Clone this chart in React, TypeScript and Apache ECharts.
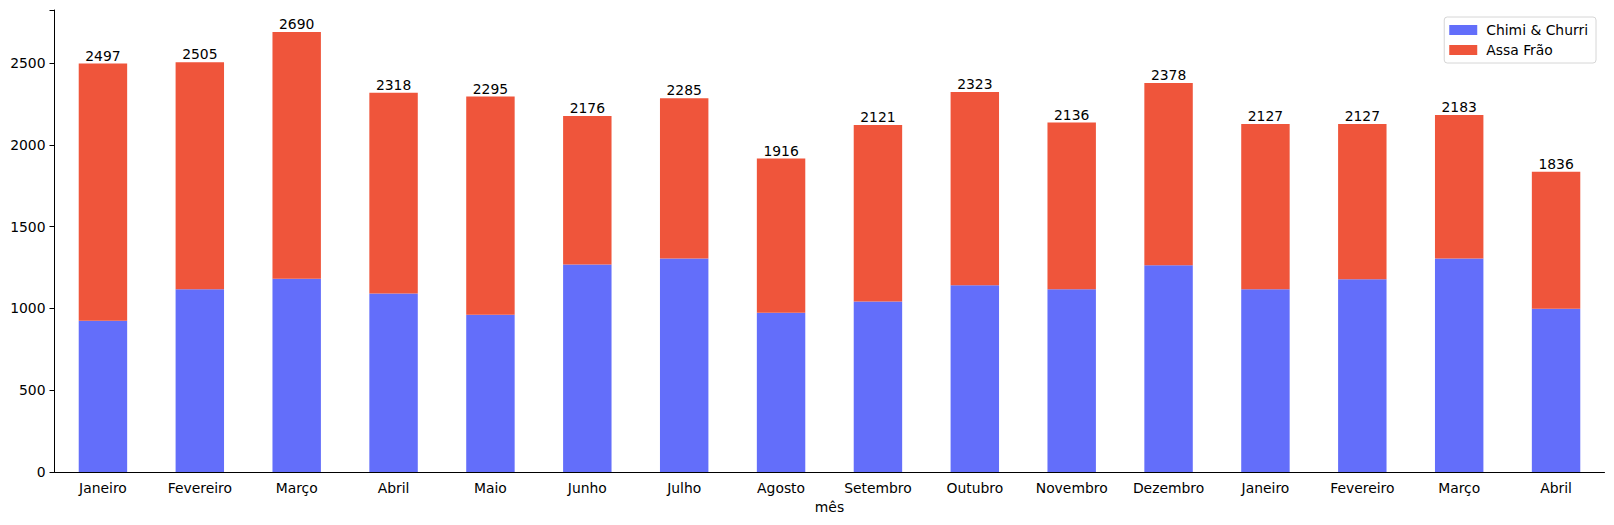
import React, { useEffect, useRef } from "react";
import * as echarts from "echarts";

const categories = [
  "Janeiro", "Fevereiro", "Março", "Abril", "Maio", "Junho", "Julho", "Agosto",
  "Setembro", "Outubro", "Novembro", "Dezembro", "Janeiro", "Fevereiro", "Março", "Abril",
];
const totals = [2497, 2505, 2690, 2318, 2295, 2176, 2285, 1916, 2121, 2323, 2136, 2378, 2127, 2127, 2183, 1836];
const chimiChurri = [924, 1117, 1182, 1092, 961, 1268, 1305, 973, 1043, 1141, 1117, 1264, 1117, 1178, 1305, 998];
const assaFrao = totals.map((t, i) => t - chimiChurri[i]);
const yTicks = [0, 500, 1000, 1500, 2000, 2500];

const FONT = "DejaVu Sans";
const FS = 13.9;

export default function App() {
  const ref = useRef<HTMLDivElement>(null);
  useEffect(() => {
    if (!ref.current) return;
    const chart = echarts.init(ref.current, undefined, { renderer: "svg" });
    chart.setOption({
      animation: false,
      textStyle: { fontFamily: FONT },
      grid: { left: 54.5, right: 9.5, top: 10, bottom: 53, containLabel: false },
      legend: {
        orient: "vertical",
        right: 18,
        top: 17,
        padding: [6, 8, 6, 5],
        itemWidth: 28,
        itemHeight: 10,
        itemGap: 6,
        borderColor: "#d6d6d6",
        borderWidth: 1,
        borderRadius: 3,
        backgroundColor: "#ffffff",
        textStyle: { fontFamily: FONT, fontSize: FS, color: "#000", padding: [0, 0, 0, 4] },
        icon: "rect",
        data: ["Chimi & Churri", "Assa Frão"],
      },
      xAxis: {
        type: "category",
        data: categories,
        name: "mês",
        nameLocation: "middle",
        nameGap: 27,
        nameTextStyle: { fontFamily: FONT, fontSize: FS, color: "#000" },
        axisLine: { lineStyle: { color: "#000", width: 1 } },
        axisTick: { alignWithLabel: true, length: 5, lineStyle: { color: "#000" } },
        axisLabel: { fontFamily: FONT, fontSize: FS, color: "#000", margin: 9, interval: 0 },
        splitLine: { show: false },
      },
      yAxis: {
        type: "value",
        min: 0,
        max: 2824.5,
        interval: 500,
        axisLine: { show: true, lineStyle: { color: "#000", width: 1 } },
        axisTick: { show: true, length: 5, lineStyle: { color: "#000" } },
        axisLabel: {
          fontFamily: FONT,
          fontSize: FS,
          color: "#000",
          margin: 9,
          formatter: (v: number) => (yTicks.includes(v) ? String(v) : ""),
        },
        splitLine: { show: false },
      },
      series: [
        {
          name: "Chimi & Churri",
          type: "bar",
          stack: "total",
          data: chimiChurri,
          barWidth: "50%",
          itemStyle: { color: "#636EFA" },
        },
        {
          name: "Assa Frão",
          type: "bar",
          stack: "total",
          data: assaFrao,
          barWidth: "50%",
          itemStyle: { color: "#EF553B" },
          label: {
            show: true,
            position: "top",
            distance: 1,
            fontFamily: FONT,
            fontSize: FS,
            color: "#000",
            formatter: (p: any) => String(totals[p.dataIndex]),
          },
        },
      ],
    });
    return () => chart.dispose();
  }, []);
  return (
    <div
      ref={ref}
      style={{ position: "fixed", left: 0, top: 0, width: 1614, height: 525, background: "#fff" }}
    />
  );
}
